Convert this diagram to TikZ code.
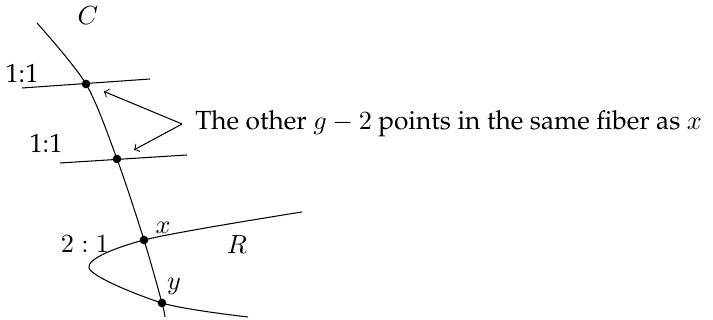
\documentclass[tikz,border=0pt]{standalone}
\usepackage[T1]{fontenc}
\renewcommand{\rmdefault}{ppl}
\usetikzlibrary{arrows.meta, positioning}

\begin{document}
\begin{tikzpicture}[
    x=0.3815pt, y=-0.3815pt,
    dot/.style={circle, fill, inner sep=0pt, minimum size=3.3pt},
    >=to
]
\useasboundingbox (0,0) rectangle (713,320);
% points on C
\node[dot] (a) at (86,84) {};
\node[dot] (b) at (117,159) {};
\node[dot] (x) at (144,240) {};
\node[dot] (y) at (162,303) {};

% the curves C and R
\draw plot[smooth] coordinates {(37,23) (a) (b) (x) (y) (165,317)};
\draw plot[smooth] coordinates {(302,212) (x) (89,268) (y) (248,317)};

% fibers through a and b
\draw (22,88) -- (150,79);
\draw (60,163) -- (187,155);

\node (lc) at (88,16) {$C$};
\node (fa) at (22,73) {1:1};
\node (fb) at (46,143) {1:1};
\node (fx) at (85,244) {$2:1$};
\node (lx) at (163,228) {$x$};
\node (ly) at (174,286) {$y$};
\node (lr) at (237,245) {$R$};

\node[anchor=west] (txt) at (186,124) {The other $g-2$ points in the same fiber as $x$};
\coordinate (src) at ([xshift=-1.5pt]txt.west);
\draw[->, shorten >=5.5pt] (src) -- (a);
\draw[->, shorten >=5.5pt] (src) -- (b);
\end{tikzpicture}
\end{document}
